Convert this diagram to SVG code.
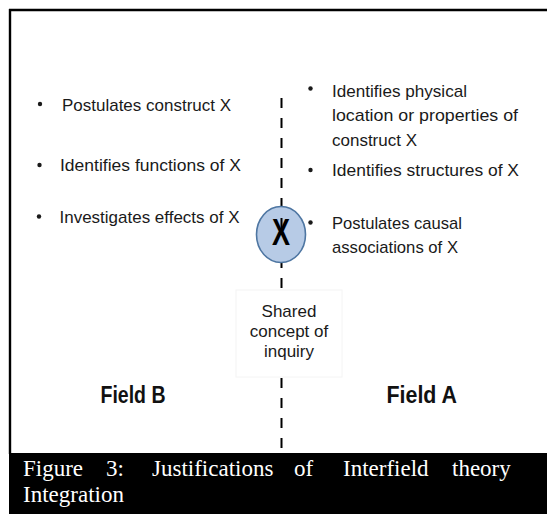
<svg xmlns="http://www.w3.org/2000/svg" width="547" height="514" viewBox="0 0 547 514">
<style>
.t{font-family:"Liberation Sans",Arial,sans-serif;font-size:17px;fill:#1a1a1a}
.f{font-family:"Liberation Sans",Arial,sans-serif;font-size:24px;font-weight:bold;fill:#111}
.cap{font-family:"Liberation Serif","Times New Roman",serif;font-size:23px;fill:#fff}
.dot{fill:#1a1a1a}
</style>
<rect x="0" y="0" width="547" height="514" fill="#fff"/>
<g id="frame">
<line x1="9" y1="10" x2="547" y2="10" stroke="#000" stroke-width="2.4"/>
<line x1="10" y1="9" x2="10" y2="454" stroke="#000" stroke-width="2.4"/>
</g>
<g id="connectors">
<line x1="281.5" y1="98" x2="281.5" y2="448" stroke="#000" stroke-width="2" stroke-dasharray="10 10"/>
</g>
<g id="fieldB">
<circle class="dot" cx="40" cy="104" r="2.2"/>
<text class="t" x="62" y="110.5" textLength="169" lengthAdjust="spacingAndGlyphs">Postulates construct X</text>
<circle class="dot" cx="39.5" cy="165" r="2.2"/>
<text class="t" x="60" y="170.5" textLength="181" lengthAdjust="spacingAndGlyphs">Identifies functions of X</text>
<circle class="dot" cx="39" cy="216.5" r="2.2"/>
<text class="t" x="59.5" y="222.5" textLength="180" lengthAdjust="spacingAndGlyphs">Investigates effects of X</text>
<text class="f" x="100.5" y="402.5" textLength="65" lengthAdjust="spacingAndGlyphs">Field B</text>
</g>
<g id="fieldA">
<circle class="dot" cx="310.5" cy="88.5" r="2.2"/>
<text class="t" x="332" y="96.5" textLength="135" lengthAdjust="spacingAndGlyphs">Identifies physical</text>
<text class="t" x="332" y="121" textLength="186" lengthAdjust="spacingAndGlyphs">location or properties of</text>
<text class="t" x="332" y="146" textLength="85" lengthAdjust="spacingAndGlyphs">construct X</text>
<circle class="dot" cx="310.5" cy="170" r="2.2"/>
<text class="t" x="332" y="176" textLength="187" lengthAdjust="spacingAndGlyphs">Identifies structures of X</text>
<circle class="dot" cx="310.5" cy="222.5" r="2.2"/>
<text class="t" x="332" y="228.5" textLength="130" lengthAdjust="spacingAndGlyphs">Postulates causal</text>
<text class="t" x="332" y="252.5" textLength="126" lengthAdjust="spacingAndGlyphs">associations of X</text>
<text class="f" x="386.5" y="402.5" textLength="70.5" lengthAdjust="spacingAndGlyphs">Field A</text>
</g>
<g id="conceptX">
<ellipse cx="281" cy="234.5" rx="24.5" ry="28" fill="#b7cbe6" stroke="#4e76a2" stroke-width="1.6"/>
<line x1="281.5" y1="218" x2="281.5" y2="228" stroke="#000" stroke-width="2"/>
<text transform="translate(281 245) scale(0.75 1)" text-anchor="middle" font-family="Liberation Sans, Arial, sans-serif" font-weight="bold" font-size="36" fill="#000">X</text>
</g>
<g id="shared">
<rect x="236" y="290" width="106" height="87" fill="#fff" stroke="#f4f4f4" stroke-width="1"/>
<text class="t" x="289" y="317" text-anchor="middle">Shared</text>
<text class="t" x="289" y="337" text-anchor="middle">concept of</text>
<text class="t" x="289" y="357" text-anchor="middle">inquiry</text>
</g>
<g id="caption">
<rect x="9" y="453" width="538" height="61" fill="#000"/>
<text class="cap" x="23" y="476">Figure</text>
<text class="cap" x="106" y="476">3:</text>
<text class="cap" x="152" y="476">Justifications</text>
<text class="cap" x="294" y="476">of</text>
<text class="cap" x="343" y="476">Interfield</text>
<text class="cap" x="452" y="476">theory</text>
<text class="cap" x="23" y="502">Integration</text>
</g>
</svg>
